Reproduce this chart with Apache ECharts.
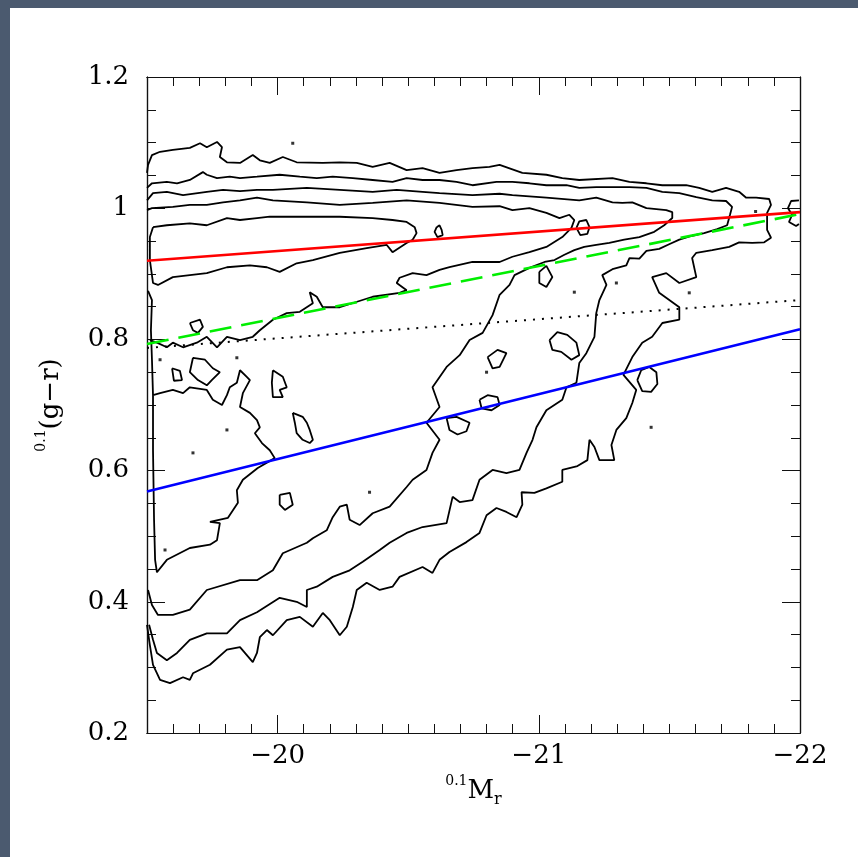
<!DOCTYPE html>
<html><head><meta charset="utf-8">
<script src="https://cdn.jsdelivr.net/npm/echarts@6/dist/echarts.min.js"></script>
<style>html,body{margin:0;padding:0;background:#fff;}#chart{width:858px;height:857px;}</style>
</head><body><div id="chart"></div>
<script>
// ---------- data (x = 0.1M_r, y = 0.1(g-r)) ----------
const xMajorTicks = [-22, -21, -20];
const xTickLabels = ['\u221222', '\u221221', '\u221220'];
const yMajorTicks = [0.2, 0.4, 0.6, 0.8, 1.0, 1.2];
const yTickLabels = ['0.2', '0.4', '0.6', '0.8', '1', '1.2'];

// fitted relations
const redLine    = [[-19.5, 0.920], [-22, 0.994]];
const greenLine  = [[-19.5, 0.793], [-22, 0.991]];
const dottedLine = [[-19.5, 0.787], [-22, 0.860]];
const blueLine   = [[-19.5, 0.568], [-22, 0.8155]];

// outermost contour
const contourOuter = [[-19.500,1.054],[-19.504,1.066],[-19.519,1.081],[-19.550,1.086],[-19.599,1.089],[-19.664,1.092],[-19.703,1.099],[-19.729,1.093],[-19.768,1.101],[-19.787,1.093],[-19.779,1.078],[-19.806,1.070],[-19.856,1.069],[-19.905,1.081],[-19.932,1.073],[-19.970,1.069],[-20.020,1.078],[-20.073,1.070],[-20.173,1.069],[-20.238,1.070],[-20.303,1.069],[-20.364,1.063],[-20.429,1.069],[-20.494,1.058],[-20.555,1.061],[-20.620,1.054],[-20.685,1.058],[-20.746,1.061],[-20.811,1.063],[-20.850,1.066],[-20.937,1.054],[-21.029,1.051],[-21.090,1.046],[-21.155,1.043],[-21.282,1.046],[-21.347,1.040],[-21.412,1.038],[-21.473,1.035],[-21.564,1.035],[-21.614,1.031],[-21.664,1.025],[-21.717,1.031],[-21.767,1.025],[-21.794,1.016],[-21.832,1.016],[-21.882,1.014],[-21.889,1.005],[-21.874,0.993],[-21.874,0.967],[-21.889,0.955],[-21.863,0.948],[-21.817,0.947],[-21.767,0.948],[-21.729,0.941],[-21.664,0.936],[-21.603,0.932],[-21.587,0.924],[-21.603,0.895],[-21.538,0.886],[-21.488,0.901],[-21.434,0.895],[-21.461,0.871],[-21.538,0.849],[-21.538,0.830],[-21.473,0.825],[-21.434,0.804],[-21.396,0.795],[-21.358,0.773],[-21.324,0.746],[-21.373,0.723],[-21.358,0.703],[-21.335,0.680],[-21.297,0.662],[-21.278,0.639],[-21.289,0.616],[-21.232,0.616],[-21.213,0.636],[-21.194,0.647],[-21.186,0.616],[-21.148,0.607],[-21.090,0.601],[-21.090,0.583],[-21.029,0.573],[-20.983,0.566],[-20.934,0.567],[-20.937,0.548],[-20.915,0.529],[-20.876,0.537],[-20.838,0.543],[-20.800,0.532],[-20.773,0.505],[-20.723,0.491],[-20.658,0.476],[-20.620,0.464],[-20.593,0.444],[-20.555,0.453],[-20.467,0.438],[-20.440,0.423],[-20.391,0.418],[-20.341,0.429],[-20.303,0.418],[-20.288,0.392],[-20.265,0.362],[-20.238,0.349],[-20.200,0.372],[-20.173,0.383],[-20.135,0.362],[-20.085,0.377],[-20.035,0.372],[-19.982,0.349],[-19.959,0.357],[-19.932,0.346],[-19.921,0.322],[-19.905,0.308],[-19.856,0.331],[-19.806,0.327],[-19.741,0.304],[-19.676,0.291],[-19.664,0.281],[-19.638,0.285],[-19.588,0.276],[-19.550,0.281],[-19.523,0.304],[-19.511,0.334],[-19.500,0.365]];

// second contour
const contourSecond = [[-19.500,1.031],[-19.519,1.038],[-19.576,1.040],[-19.615,1.038],[-19.664,1.043],[-19.714,1.055],[-19.729,1.051],[-19.768,1.046],[-19.817,1.048],[-19.856,1.046],[-19.921,1.048],[-20.008,1.051],[-20.085,1.048],[-20.150,1.046],[-20.211,1.048],[-20.288,1.046],[-20.364,1.043],[-20.440,1.040],[-20.494,1.046],[-20.555,1.043],[-20.620,1.043],[-20.685,1.040],[-20.746,1.035],[-20.838,1.040],[-20.899,1.040],[-20.964,1.038],[-21.029,1.035],[-21.106,1.035],[-21.155,1.031],[-21.220,1.032],[-21.282,1.032],[-21.347,1.032],[-21.412,1.031],[-21.473,1.025],[-21.538,1.023],[-21.603,1.017],[-21.664,1.012],[-21.717,1.011],[-21.740,1.002],[-21.732,0.990],[-21.721,0.974],[-21.683,0.968],[-21.633,0.962],[-21.587,0.958],[-21.538,0.952],[-21.499,0.945],[-21.461,0.938],[-21.412,0.935],[-21.385,0.923],[-21.347,0.924],[-21.335,0.913],[-21.282,0.907],[-21.243,0.898],[-21.259,0.883],[-21.232,0.860],[-21.220,0.840],[-21.213,0.804],[-21.182,0.779],[-21.155,0.764],[-21.144,0.734],[-21.106,0.727],[-21.090,0.708],[-21.029,0.692],[-20.991,0.666],[-20.976,0.647],[-20.953,0.627],[-20.926,0.601],[-20.876,0.596],[-20.823,0.601],[-20.773,0.586],[-20.746,0.555],[-20.697,0.552],[-20.670,0.560],[-20.647,0.520],[-20.555,0.514],[-20.494,0.505],[-20.429,0.490],[-20.391,0.479],[-20.326,0.461],[-20.276,0.448],[-20.211,0.438],[-20.150,0.423],[-20.112,0.418],[-20.112,0.392],[-20.073,0.400],[-20.008,0.406],[-19.921,0.384],[-19.856,0.372],[-19.806,0.352],[-19.729,0.352],[-19.664,0.342],[-19.615,0.322],[-19.576,0.311],[-19.538,0.322],[-19.523,0.342],[-19.508,0.365]];

// third contour
const contourThird = [[-19.500,1.012],[-19.523,1.023],[-19.576,1.025],[-19.638,1.020],[-19.729,1.025],[-19.791,1.028],[-19.856,1.026],[-19.921,1.028],[-19.982,1.028],[-20.112,1.031],[-20.238,1.028],[-20.364,1.025],[-20.456,1.028],[-20.555,1.025],[-20.620,1.023],[-20.746,1.020],[-20.850,1.022],[-20.899,1.020],[-21.029,1.016],[-21.155,1.012],[-21.220,1.016],[-21.282,1.009],[-21.320,1.008],[-21.358,1.009],[-21.412,1.000],[-21.488,0.997],[-21.511,0.994],[-21.511,0.985],[-21.480,0.974],[-21.442,0.964],[-21.385,0.956],[-21.327,0.952],[-21.270,0.947],[-21.220,0.944],[-21.174,0.941],[-21.136,0.936],[-21.098,0.929],[-21.060,0.921],[-21.022,0.918],[-20.964,0.909],[-20.907,0.898],[-20.888,0.883],[-20.850,0.868],[-20.823,0.837],[-20.785,0.810],[-20.735,0.799],[-20.697,0.776],[-20.647,0.758],[-20.593,0.727],[-20.620,0.697],[-20.570,0.673],[-20.620,0.647],[-20.593,0.627],[-20.570,0.601],[-20.517,0.586],[-20.494,0.575],[-20.429,0.545],[-20.364,0.535],[-20.314,0.517],[-20.276,0.525],[-20.265,0.548],[-20.238,0.545],[-20.211,0.529],[-20.188,0.509],[-20.135,0.497],[-20.112,0.490],[-20.020,0.474],[-19.982,0.448],[-19.921,0.433],[-19.856,0.433],[-19.729,0.418],[-19.664,0.388],[-19.599,0.380],[-19.542,0.380],[-19.519,0.395],[-19.504,0.418]];

// fourth contour (red ridge envelope + green valley edge)
const contourFourth = [[-19.500,0.997],[-19.519,1.000],[-19.599,1.002],[-19.664,1.005],[-19.729,1.005],[-19.791,1.009],[-19.856,1.012],[-19.921,1.016],[-19.982,1.012],[-20.112,1.009],[-20.238,1.005],[-20.364,1.008],[-20.494,1.012],[-20.620,1.008],[-20.746,1.002],[-20.850,1.003],[-20.899,0.997],[-20.964,1.000],[-21.029,0.993],[-21.079,0.985],[-21.117,0.990],[-21.136,0.982],[-21.125,0.970],[-21.090,0.956],[-21.029,0.941],[-20.964,0.933],[-20.899,0.926],[-20.850,0.918],[-20.746,0.918],[-20.658,0.910],[-20.620,0.906],[-20.570,0.898],[-20.517,0.901],[-20.467,0.894],[-20.456,0.886],[-20.494,0.875],[-20.467,0.871],[-20.364,0.865],[-20.238,0.849],[-20.173,0.849],[-20.150,0.865],[-20.123,0.872],[-20.135,0.855],[-20.085,0.842],[-20.035,0.840],[-19.982,0.830],[-19.932,0.814],[-19.905,0.804],[-19.856,0.799],[-19.806,0.804],[-19.768,0.788],[-19.729,0.804],[-19.691,0.795],[-19.638,0.788],[-19.599,0.795],[-19.576,0.788],[-19.538,0.795],[-19.511,0.799]];

// innermost red-sequence contour
const contourCore = [[-19.523,0.971],[-19.576,0.974],[-19.664,0.977],[-19.729,0.974],[-19.806,0.985],[-19.856,0.982],[-19.921,0.985],[-19.970,0.987],[-20.047,0.987],[-20.238,0.987],[-20.364,0.985],[-20.440,0.982],[-20.494,0.979],[-20.525,0.971],[-20.532,0.962],[-20.517,0.952],[-20.494,0.947],[-20.440,0.933],[-20.418,0.944],[-20.341,0.939],[-20.238,0.932],[-20.135,0.921],[-20.073,0.916],[-20.008,0.903],[-19.959,0.910],[-19.894,0.913],[-19.806,0.910],[-19.729,0.901],[-19.599,0.895],[-19.542,0.883],[-19.523,0.886],[-19.511,0.921],[-19.511,0.956],[-19.523,0.971]];

// innermost blue-cloud contour
const contourBlue = [[-19.504,0.874],[-19.519,0.860],[-19.515,0.814],[-19.519,0.769],[-19.523,0.715],[-19.523,0.631],[-19.527,0.525],[-19.531,0.464],[-19.538,0.445],[-19.576,0.464],[-19.664,0.482],[-19.741,0.487],[-19.768,0.494],[-19.779,0.520],[-19.741,0.522],[-19.810,0.528],[-19.848,0.551],[-19.844,0.570],[-19.867,0.586],[-19.924,0.604],[-19.989,0.619],[-19.970,0.631],[-19.940,0.642],[-19.913,0.657],[-19.932,0.666],[-19.921,0.677],[-19.894,0.688],[-19.856,0.697],[-19.867,0.718],[-19.894,0.738],[-19.882,0.743],[-19.856,0.753],[-19.844,0.734],[-19.817,0.727],[-19.806,0.715],[-19.787,0.700],[-19.752,0.708],[-19.729,0.723],[-19.664,0.727],[-19.638,0.718],[-19.599,0.723],[-19.550,0.718],[-19.523,0.715]];

// small closed islands
const contourIslands = [
  [[-21.144,0.970],[-21.155,0.980],[-21.182,0.982],[-21.194,0.971],[-21.186,0.961],[-21.159,0.959],[-21.144,0.970]],
  [[-21.377,0.738],[-21.392,0.753],[-21.423,0.758],[-21.450,0.750],[-21.454,0.732],[-21.430,0.720],[-21.396,0.721],[-21.377,0.738]],
  [[-20.647,0.680],[-20.685,0.682],[-20.735,0.673],[-20.723,0.660],[-20.689,0.655],[-20.658,0.662],[-20.647,0.680]],
  [[-20.773,0.708],[-20.804,0.715],[-20.842,0.712],[-20.850,0.700],[-20.819,0.692],[-20.781,0.695],[-20.773,0.708]],
  [[-20.058,0.688],[-20.096,0.682],[-20.112,0.673],[-20.123,0.662],[-20.135,0.647],[-20.123,0.642],[-20.096,0.647],[-20.073,0.657],[-20.066,0.673],[-20.058,0.688]],
  [[-19.982,0.753],[-20.020,0.743],[-20.035,0.727],[-20.008,0.723],[-20.020,0.712],[-19.982,0.712],[-19.978,0.734],[-19.982,0.753]],
  [[-20.008,0.563],[-20.047,0.566],[-20.058,0.548],[-20.028,0.540],[-20.008,0.548],[-20.008,0.563]],
  [[-21.996,1.012],[-21.966,1.011],[-21.954,1.000],[-21.970,0.990],[-21.958,0.979],[-21.985,0.973],[-21.996,0.976]],
  [[-20.609,0.971],[-20.620,0.974],[-20.628,0.967],[-20.632,0.959],[-20.612,0.956],[-20.601,0.964],[-20.609,0.971]],
  [[-19.676,0.772],[-19.722,0.769],[-19.752,0.756],[-19.779,0.750],[-19.748,0.738],[-19.729,0.730],[-19.695,0.738],[-19.664,0.750],[-19.676,0.772]],
  [[-19.664,0.825],[-19.703,0.830],[-19.714,0.819],[-19.695,0.810],[-19.676,0.814],[-19.664,0.825]],
  [[-19.596,0.756],[-19.626,0.752],[-19.634,0.738],[-19.603,0.737],[-19.596,0.756]],
  [[-21.041,0.799],[-21.071,0.811],[-21.109,0.807],[-21.144,0.795],[-21.155,0.776],[-21.125,0.769],[-21.086,0.781],[-21.052,0.784],[-21.041,0.799]],
  [[-21.002,0.903],[-21.029,0.912],[-21.052,0.895],[-21.029,0.880],[-21.002,0.886],[-21.002,0.903]],
  [[-20.804,0.773],[-20.842,0.784],[-20.876,0.779],[-20.850,0.758],[-20.823,0.756],[-20.804,0.773]]
];

// isolated single-pixel contour specks
const contourDots = [[-20.058,1.099],[-19.550,0.769],[-19.844,0.772],[-19.676,0.627],[-21.136,0.872],[-21.576,0.871],[-21.430,0.666],[-21.297,0.886],[-19.569,0.479],[-19.806,0.662],[-20.352,0.567],[-20.800,0.750],[-21.830,0.995]];

// ---------- chart ----------
const FONT = 'DejaVu Serif';
const AXIS_COLOR = '#111';

function findLabel(v, ticks, labels) {
  const i = ticks.findIndex(t => Math.abs(t - v) < 1e-6);
  return i >= 0 ? labels[i] : '';
}

function xAxisDef(position, interval, tickLen, withLabels) {
  return {
    type: 'value', position, min: -22, max: -19.5, inverse: true, interval,
    axisLine: { show: true, onZero: false, lineStyle: { color: AXIS_COLOR, width: 1.2 } },
    axisTick: { show: true, inside: true, length: tickLen, lineStyle: { color: AXIS_COLOR, width: 1 } },
    axisLabel: withLabels ? {
      show: true, margin: 10, fontFamily: FONT, fontSize: 26, color: '#000',
      showMinLabel: true, showMaxLabel: true,
      formatter: v => findLabel(v, xMajorTicks, xTickLabels)
    } : { show: false },
    splitLine: { show: false }
  };
}
function yAxisDef(position, interval, tickLen, withLabels) {
  return {
    type: 'value', position, min: 0.2, max: 1.2, interval,
    axisLine: { show: true, onZero: false, lineStyle: { color: AXIS_COLOR, width: 1.2 } },
    axisTick: { show: true, inside: true, length: tickLen, lineStyle: { color: AXIS_COLOR, width: 1 } },
    axisLabel: withLabels ? {
      show: true, margin: 18, fontFamily: FONT, fontSize: 26, color: '#000',
      showMinLabel: true, showMaxLabel: true,
      formatter: v => findLabel(v, yMajorTicks, yTickLabels)
    } : { show: false },
    splitLine: { show: false }
  };
}

const xMain = xAxisDef('bottom', 1, 18, true);
xMain.name = '{sup|0.1}{m|M}{sub|r}';
xMain.nameLocation = 'middle';
xMain.nameGap = 38;
xMain.nameTextStyle = {
  fontFamily: FONT, color: '#000',
  rich: {
    sup: { fontFamily: FONT, fontSize: 14, lineHeight: 16, verticalAlign: 'top', color: '#000' },
    m:   { fontFamily: FONT, fontSize: 26, lineHeight: 34, color: '#000' },
    sub: { fontFamily: FONT, fontSize: 16, lineHeight: 14, verticalAlign: 'bottom', color: '#000' }
  }
};

const yMain = yAxisDef('left', 0.2, 18, true);
yMain.name = '{sup|0.1}{m|(g\u2212r)}';
yMain.nameLocation = 'middle';
yMain.nameGap = 79;
yMain.nameRotate = 90;
yMain.nameTextStyle = {
  fontFamily: FONT, color: '#000',
  rich: {
    sup: { fontFamily: FONT, fontSize: 14, lineHeight: 16, verticalAlign: 'top', color: '#000' },
    m:   { fontFamily: FONT, fontSize: 26, lineHeight: 34, color: '#000' }
  }
};

const contourSets = [contourOuter, contourSecond, contourThird, contourFourth, contourCore, contourBlue].concat(contourIslands);

const series = contourSets.map(d => ({
  type: 'line', data: d, xAxisIndex: 0, yAxisIndex: 0,
  symbol: 'none', showSymbol: false, silent: true, z: 2,
  lineStyle: { color: '#000', width: 1.8 }
}));

series.push({
  type: 'scatter', data: contourDots, xAxisIndex: 0, yAxisIndex: 0,
  symbol: 'rect', symbolSize: 3, itemStyle: { color: '#000' }, silent: true, z: 2
});

function fitLine(data, color, type, width) {
  return {
    type: 'line', data, xAxisIndex: 0, yAxisIndex: 0, symbol: 'none', showSymbol: false,
    silent: true, z: 5, lineStyle: { color, type, width }
  };
}
series.push(fitLine(dottedLine, '#000', [2, 7], 2));
series.push(fitLine(blueLine, '#0000ff', 'solid', 2.6));
series.push(fitLine(greenLine, '#00ee00', [22, 10], 2.6));
series.push(fitLine(redLine, '#ff0000', 'solid', 2.6));

const chart = echarts.init(document.getElementById('chart'), null, { renderer: 'canvas' });
chart.setOption({
  animation: false,
  backgroundColor: '#ffffff',
  grid: { left: 147, right: 58, top: 77, bottom: 124, containLabel: false },
  xAxis: [
    xMain,
    xAxisDef('bottom', 0.1, 9, false),
    xAxisDef('top', 1, 18, false),
    xAxisDef('top', 0.1, 9, false)
  ],
  yAxis: [
    yMain,
    yAxisDef('left', 0.05, 9, false),
    yAxisDef('right', 0.2, 18, false),
    yAxisDef('right', 0.05, 9, false)
  ],
  graphic: [
    { type: 'rect', left: 0, top: 0, shape: { width: 10, height: 857 }, style: { fill: '#4b5a6f' }, silent: true },
    { type: 'rect', left: 0, top: 0, shape: { width: 858, height: 8 }, style: { fill: '#4b5a6f' }, silent: true }
  ],
  series
});
</script>
</body></html>
